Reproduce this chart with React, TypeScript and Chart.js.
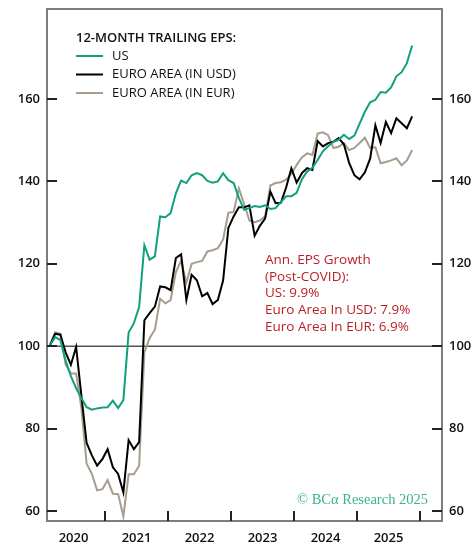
import React, { useEffect, useRef } from 'react';
import { Chart, registerables } from 'chart.js';

Chart.register(...registerables);

const MONTHS: string[] = [
  '2020-02', '2020-03', '2020-04', '2020-05', '2020-06', '2020-07', '2020-08', '2020-09', '2020-10', '2020-11', '2020-12',
  '2021-01', '2021-02', '2021-03', '2021-04', '2021-05', '2021-06', '2021-07', '2021-08', '2021-09', '2021-10', '2021-11', '2021-12',
  '2022-01', '2022-02', '2022-03', '2022-04', '2022-05', '2022-06', '2022-07', '2022-08', '2022-09', '2022-10', '2022-11', '2022-12',
  '2023-01', '2023-02', '2023-03', '2023-04', '2023-05', '2023-06', '2023-07', '2023-08', '2023-09', '2023-10', '2023-11', '2023-12',
  '2024-01', '2024-02', '2024-03', '2024-04', '2024-05', '2024-06', '2024-07', '2024-08', '2024-09', '2024-10', '2024-11', '2024-12',
  '2025-01', '2025-02', '2025-03', '2025-04', '2025-05', '2025-06', '2025-07', '2025-08', '2025-09', '2025-10', '2025-11',
];

const US: number[] = [
  100.2, 102.2, 101.5, 96.5, 92.7, 89.8, 87.4, 85.2, 84.6, 84.9, 85.1,
  85.2, 86.8, 85.0, 86.9, 103.3, 105.6, 109.5, 124.5, 121.0, 121.8, 131.5, 131.3,
  132.3, 137.1, 140.2, 139.6, 141.5, 142.0, 141.5, 140.1, 139.7, 140.0, 142.0, 140.3,
  139.6, 136.0, 133.1, 133.5, 134.0, 133.8, 134.2, 133.3, 133.5, 135.0, 136.4, 136.4,
  137.2, 140.5, 142.4, 143.3, 145.2, 147.3, 148.5, 149.6, 150.1, 151.3, 150.3, 151.1,
  154.0, 156.9, 159.2, 159.8, 161.7, 161.5, 162.8, 165.5, 166.5, 168.7, 173.0,
];

const EURO_USD: number[] = [
  100.2, 103.0, 102.8, 98.5, 95.5, 99.8, 88.0, 76.5, 73.5, 71.0, 72.6,
  75.0, 70.6, 69.0, 64.5, 77.2, 75.0, 76.7, 106.3, 108.0, 109.6, 114.5, 114.3,
  113.6, 121.4, 122.3, 111.2, 117.3, 116.0, 112.1, 112.9, 110.2, 111.2, 116.0, 128.7,
  131.5, 133.7, 133.7, 134.2, 126.8, 129.2, 131.0, 137.5, 134.7, 134.8, 138.5, 143.2,
  139.7, 142.0, 143.2, 142.8, 149.8, 148.5, 149.3, 149.6, 150.5, 149.0, 144.5, 141.5,
  140.5, 142.2, 145.5, 153.6, 149.3, 154.4, 151.7, 155.3, 154.1, 152.9, 155.8,
];

const EURO_EUR: number[] = [
  100.2, 103.4, 103.0, 95.5, 93.4, 93.4, 85.0, 71.5, 69.0, 65.0, 65.3,
  67.5, 64.2, 64.1, 58.7, 68.9, 68.9, 71.0, 98.5, 102.0, 104.0, 111.5, 110.4,
  111.2, 118.0, 120.8, 115.4, 120.0, 120.4, 120.7, 123.0, 123.3, 123.8, 125.9, 132.4,
  132.6, 138.3, 134.5, 130.5, 130.1, 130.5, 131.5, 139.0, 139.6, 139.8, 140.4, 141.8,
  144.0, 145.8, 146.8, 146.4, 151.6, 151.9, 151.2, 148.1, 148.4, 149.3, 147.6, 148.1,
  149.3, 150.6, 148.1, 148.3, 144.4, 144.7, 145.1, 145.6, 143.9, 145.1, 147.6,
];

const YEAR_LABELS: string[] = ['2020', '2021', '2022', '2023', '2024', '2025'];
const YEAR_BOUNDARIES: number[] = [2021, 2022, 2023, 2024, 2025, 2026];
const Y_TICKS: number[] = [60, 80, 100, 120, 140, 160];
const REF_LEVEL = 100;

const LEGEND_TITLE = '12-MONTH TRAILING EPS:';
const SERIES_NAMES: string[] = ['US', 'EURO AREA (IN USD)', 'EURO AREA (IN EUR)'];
const NOTE_LINES: string[] = [
  'Ann. EPS Growth',
  '(Post-COVID):',
  'US: 9.9%',
  'Euro Area In USD: 7.9%',
  'Euro Area In EUR: 6.9%',
];
const SOURCE = '© BCα Research 2025';

const COLORS = ['#10a07e', '#000000', '#a89c8d'];
const FRAME = '#7d7d7d';
const TICK_FONT = '"Open Sans", sans-serif';

// months since Jan 2020, mid-month
const monthPos = (s: string) => {
  const [y, m] = s.split('-').map(Number);
  return (y - 2020) * 12 + (m - 1) + 0.5;
};
const yearPos = (y: number) => (y - 2020) * 12;

const toPoints = (vals: number[]) => vals.map((v, i) => ({ x: monthPos(MONTHS[i]), y: v }));

const decor = {
  id: 'decor',
  beforeDatasetsDraw(chart: any) {
    const { ctx, chartArea: a, scales } = chart;
    const y = scales.y.getPixelForValue(REF_LEVEL);
    ctx.save();
    ctx.strokeStyle = '#555';
    ctx.lineWidth = 1.5;
    ctx.beginPath();
    ctx.moveTo(a.left, y);
    ctx.lineTo(a.right, y);
    ctx.stroke();
    ctx.restore();
  },
  afterDatasetsDraw(chart: any) {
    const { ctx, chartArea: a, scales } = chart;
    ctx.save();
    // frame
    ctx.strokeStyle = FRAME;
    ctx.lineWidth = 2;
    ctx.strokeRect(a.left, a.top, a.right - a.left, a.bottom - a.top);
    // tick marks
    ctx.strokeStyle = '#222';
    ctx.lineWidth = 2;
    ctx.beginPath();
    for (const v of Y_TICKS) {
      const y = Math.round(scales.y.getPixelForValue(v));
      ctx.moveTo(a.left, y);
      ctx.lineTo(a.left + 10, y);
      ctx.moveTo(a.right - 10, y);
      ctx.lineTo(a.right, y);
    }
    for (const yr of YEAR_BOUNDARIES) {
      const x = Math.round(scales.x.getPixelForValue(yearPos(yr)));
      ctx.moveTo(x, a.bottom);
      ctx.lineTo(x, a.bottom - 10);
    }
    ctx.stroke();

    // legend
    const lx = a.left + 29;
    ctx.fillStyle = '#111';
    ctx.textBaseline = 'middle';
    ctx.textAlign = 'left';
    ctx.font = '600 13px ' + TICK_FONT;
    ctx.fillText(LEGEND_TITLE, lx, 38);
    ctx.font = '13px ' + TICK_FONT;
    SERIES_NAMES.forEach((name, i) => {
      const y = 56 + i * 18.5;
      ctx.strokeStyle = COLORS[i];
      ctx.lineWidth = 2;
      ctx.beginPath();
      ctx.moveTo(lx, y);
      ctx.lineTo(lx + 27, y);
      ctx.stroke();
      ctx.fillStyle = '#111';
      ctx.fillText(name, lx + 36, y);
    });

    // annotation
    ctx.fillStyle = '#b91e26';
    ctx.font = '13.5px ' + TICK_FONT;
    NOTE_LINES.forEach((t, i) => {
      ctx.fillText(t, 265, 260 + i * 16.7);
    });

    // source
    ctx.fillStyle = '#3cb28d';
    ctx.font = '14.5px "Liberation Serif", serif';
    ctx.textAlign = 'right';
    ctx.fillText(SOURCE, 428, 500);
    ctx.restore();
  },
};

export default function App() {
  const ref = useRef<HTMLCanvasElement | null>(null);
  useEffect(() => {
    if (!ref.current) return;
    const yScaleBase = {
      type: 'linear' as const,
      min: 57.57,
      max: 181.84,
      grid: { display: false, drawTicks: false },
      border: { display: false },
      afterBuildTicks: (s: any) => {
        s.ticks = Y_TICKS.map((v) => ({ value: v }));
      },
    };
    const chart = new Chart(ref.current, {
      type: 'line',
      data: {
        datasets: [
          { label: SERIES_NAMES[0], data: toPoints(US), borderColor: COLORS[0], borderWidth: 2, pointRadius: 0, tension: 0, order: 1 },
          { label: SERIES_NAMES[1], data: toPoints(EURO_USD), borderColor: COLORS[1], borderWidth: 2, pointRadius: 0, tension: 0, order: 2 },
          { label: SERIES_NAMES[2], data: toPoints(EURO_EUR), borderColor: COLORS[2], borderWidth: 2, pointRadius: 0, tension: 0, order: 3 },
        ],
      },
      options: {
        responsive: false,
        animation: false,
        layout: { padding: { top: 9, left: 0, right: 0, bottom: 0 } },
        plugins: { legend: { display: false }, tooltip: { enabled: false } },
        scales: {
          x: {
            type: 'linear',
            min: 0.952,
            max: 76.19,
            grid: { display: false, drawTicks: false },
            border: { display: false },
            afterBuildTicks: (s: any) => {
              s.ticks = YEAR_LABELS.map((_, i) => ({ value: yearPos(2020 + i) + 6 }));
            },
            afterFit: (s: any) => {
              s.height = 26;
              s.paddingLeft = 0;
              s.paddingRight = 0;
            },
            ticks: {
              autoSkip: false,
              maxRotation: 0,
              padding: 9,
              color: '#111',
              font: { family: TICK_FONT, size: 13, weight: '600' },
              callback: (v: any) => YEAR_LABELS[Math.round((Number(v) - 6) / 12)] ?? '',
            },
          },
          y: {
            ...yScaleBase,
            position: 'left',
            afterFit: (s: any) => {
              s.width = 47;
              s.paddingTop = 0;
              s.paddingBottom = 0;
            },
            ticks: { padding: 7, color: '#111', font: { family: TICK_FONT, size: 13, weight: '600' } },
          },
          y2: {
            ...yScaleBase,
            position: 'right',
            afterFit: (s: any) => {
              s.width = 33;
              s.paddingTop = 0;
              s.paddingBottom = 0;
            },
            ticks: { padding: 7, color: '#111', font: { family: TICK_FONT, size: 13, weight: '600' } },
          },
        },
      },
      plugins: [decor],
    });
    return () => chart.destroy();
  }, []);
  return (
    <div style={{ position: 'absolute', left: 0, top: 0, width: 475, height: 547, background: '#fff' }}>
      <canvas ref={ref} width={475} height={547} style={{ display: 'block' }} />
    </div>
  );
}
